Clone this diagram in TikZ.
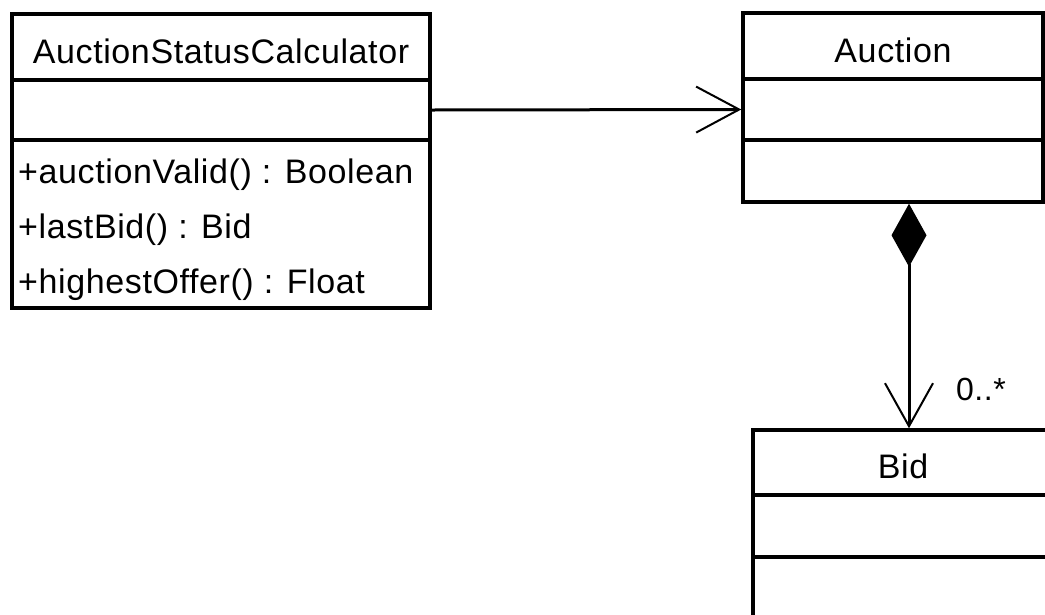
\documentclass[tikz,border=0pt]{standalone}
\usepackage{fontspec}
\setmainfont[LetterSpace=1.8]{Liberation Sans}
\usetikzlibrary{arrows.meta,calc}
\tikzset{
  x=1pt, y=-1pt,
  part/.style={draw=black, line width=3.5pt, rectangle, inner sep=0pt,
    minimum width=#1, font=\fontsize{34}{40}\selectfont},
  title/.style={text height=32pt, text depth=0pt},
  member/.style={anchor=west, inner sep=0pt, font=\fontsize{34}{40}\selectfont},
  assoc/.style={line width=3pt, -{Straight Barb[length=43pt,width=46pt,line width=2pt]}},
  compo/.style={line width=3pt, {Diamond[length=63pt,width=35pt]}-{Straight Barb[length=43pt,width=48pt,line width=2pt]}},
  mult/.style={inner sep=0pt, font=\fontsize{32}{38}\selectfont}
}
\begin{document}
\begin{tikzpicture}
\useasboundingbox (0,0) rectangle (1045,614);
\clip (0,0) rectangle (1045,614);
% AuctionStatusCalculator
\node[part=418pt, minimum height=66pt, title] (ascT) at (221,47) {AuctionStatusCalculator};
\node[part=418pt, minimum height=60pt] (ascA) at (221,110) {};
\node[part=418pt, minimum height=168pt] (ascO) at (221,224) {};
\node[member] (m1) at (18,175) {+auctionValid() : Boolean};
\node[member] (m2) at (18,230) {+lastBid() : Bid};
\node[member] (m3) at (18,285) {+highestOffer() : Float};
% Auction
\node[part=300pt, minimum height=66pt, title] (auT) at (893,46) {Auction};
\node[part=300pt, minimum height=61pt] (auA) at (893,109.5) {};
\node[part=300pt, minimum height=62pt] (auO) at (893,171) {};
% Bid
\node[part=300pt, minimum height=65pt, title] (bidT) at (903,462.5) {Bid};
\node[part=300pt, minimum height=62pt] (bidA) at (903,526) {};
\node[part=300pt, minimum height=83pt] (bidO) at (903,598.5) {};
% connectors
\draw[assoc] (ascA.east) -- (auA.west);
\draw[compo] ($(auO.south)+(16,0)$) -- ($(bidT.north)+(6,0)$);
\node[mult] (m) at (981,389) {0..*};
\end{tikzpicture}
\end{document}
